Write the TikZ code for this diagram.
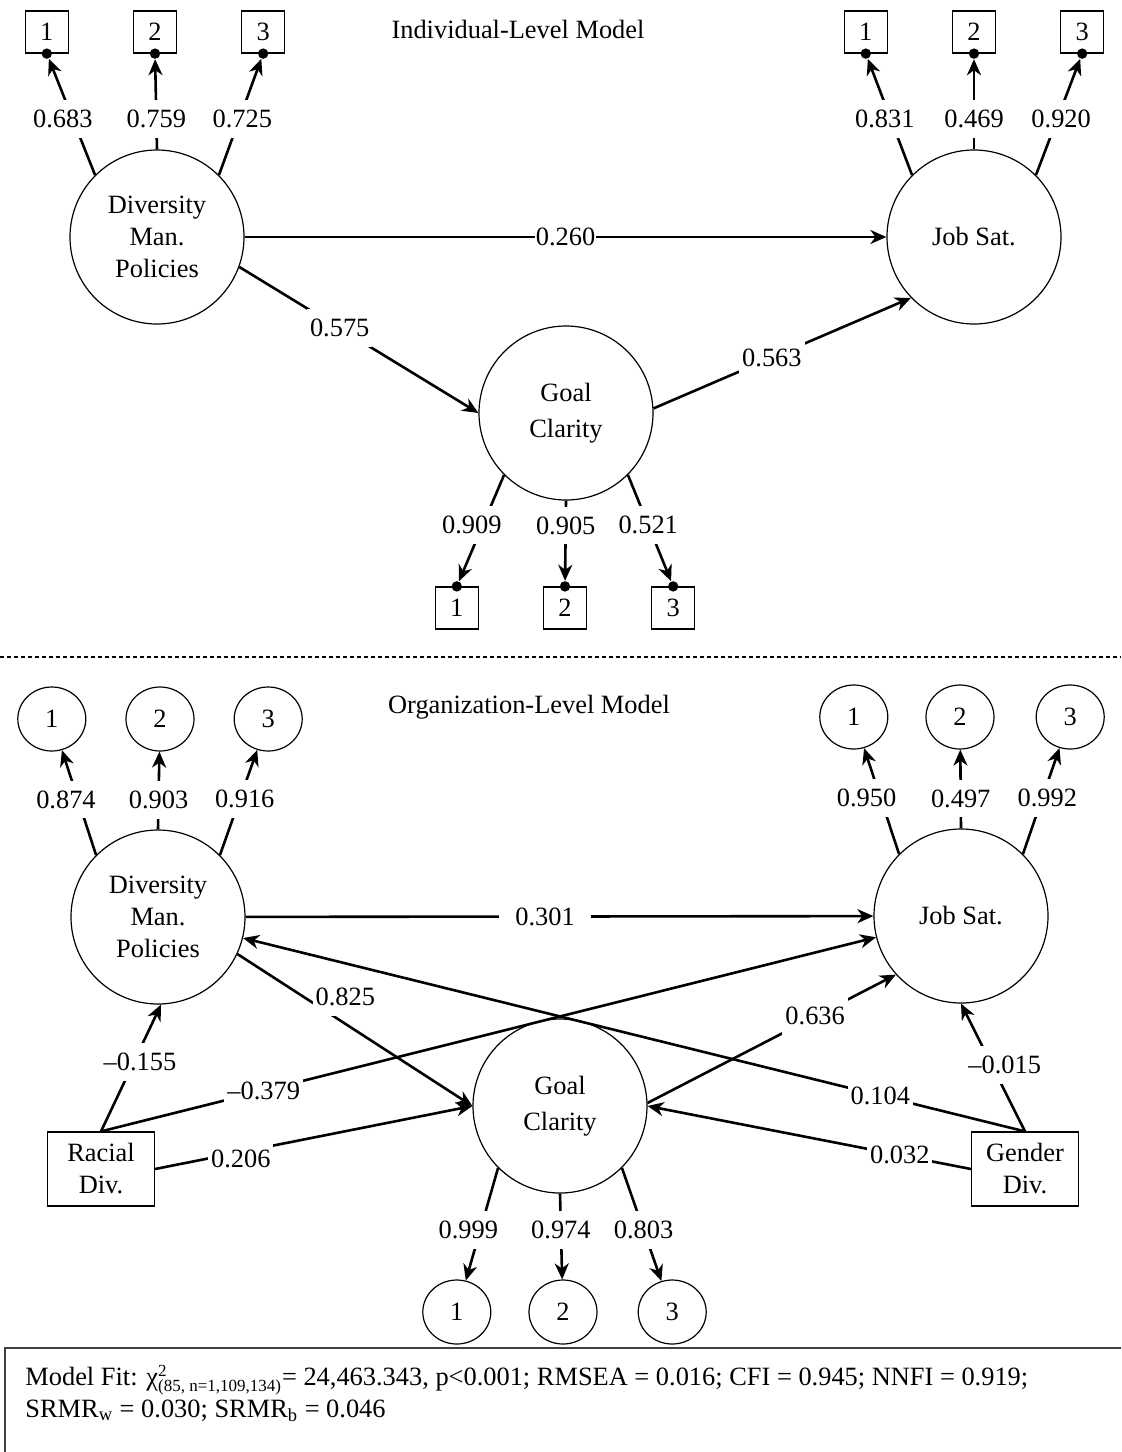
\documentclass[tikz,border=0pt]{standalone}
\usepackage{fontspec}
\setmainfont{Liberation Serif}
\usetikzlibrary{shapes.geometric, arrows.meta, positioning}
\tikzset{
    latent/.style={circle, draw=black, line width=0.6pt, minimum size=87pt, inner sep=0pt, text centered, align=center},
    item/.style={rectangle, draw=black, line width=0.6pt, minimum width=21.5pt, minimum height=21pt, inner sep=0pt},
    itemo/.style={ellipse, draw=black, line width=0.6pt, minimum width=34pt, minimum height=32pt, inner sep=0pt},
    covar/.style={rectangle, draw=black, line width=0.6pt, minimum width=53.5pt, minimum height=37pt, inner sep=0pt, align=center},
    dot/.style={circle, fill=black, inner sep=0pt, minimum size=5.2pt},
    arrow/.style={line width=1.3pt, -{Stealth[length=8pt, width=7pt, inset=2.5pt]}},
    coef/.style={fill=white, inner xsep=1.5pt, inner ysep=5pt},
    frame/.style={line width=1pt, black!75}
}
\newcommand{\fitsub}[1]{\mbox{\fontsize{8.5}{9}\selectfont #1}}
\begin{document}
\begin{tikzpicture}[x=0.5pt, y=-0.5pt, font=\fontsize{13.2}{16}\selectfont]
    \useasboundingbox (0,0) rectangle (1121,1452);
    % Individual-level model
    \node (title_ind) at (518,29) {Individual-Level Model};
    \node (dmp_ind) [latent] at (157,237) {Diversity\\Man.\\Policies};
    \node (js_ind) [latent] at (974,237) {Job Sat.};
    \node (gc_ind) [latent] at (566,413) {Goal\\[2pt]Clarity};
    % Items
    \node (dmp_ind_2) [item] at (155,32) {2};
    \node (dmp_ind_1) [item, left=32pt of dmp_ind_2] {1};
    \node (dmp_ind_3) [item, right=32pt of dmp_ind_2] {3};
    \node (js_ind_2) [item] at (974,32) {2};
    \node (js_ind_1) [item, left=32pt of js_ind_2] {1};
    \node (js_ind_3) [item, right=32pt of js_ind_2] {3};
    \node (gc_ind_2) [item] at (565,608) {2};
    \node (gc_ind_1) [item, left=32pt of gc_ind_2] {1};
    \node (gc_ind_3) [item, right=32pt of gc_ind_2] {3};
    \foreach \n in {dmp_ind_1, dmp_ind_2, dmp_ind_3, js_ind_1, js_ind_2, js_ind_3}
        \node (\n_dot) [dot] at (\n.south) {};
    \foreach \n in {gc_ind_1, gc_ind_2, gc_ind_3}
        \node (\n_dot) [dot] at (\n.north) {};
    % Arrows
    \draw [arrow] (dmp_ind.135) -- node[coef, pos=0.48, xshift=-5pt] {0.683} (dmp_ind_1_dot);
    \draw [arrow] (dmp_ind.90) -- node[coef, pos=0.34] {0.759} (dmp_ind_2_dot);
    \draw [arrow] (dmp_ind.45) -- node[coef, pos=0.48, xshift=1.5pt] {0.725} (dmp_ind_3_dot);
    \draw [arrow] (js_ind.135) -- node[coef, pos=0.48, xshift=-3pt] {0.831} (js_ind_1_dot);
    \draw [arrow] (js_ind.90) -- node[coef, pos=0.34] {0.469} (js_ind_2_dot);
    \draw [arrow] (js_ind.45) -- node[coef, pos=0.48, xshift=2pt] {0.920} (js_ind_3_dot);
    \draw [arrow] (gc_ind.225) -- node[coef, pos=0.47, xshift=-5.5pt] {0.909} (gc_ind_1_dot);
    \draw [arrow] (gc_ind.270) -- node[coef, pos=0.31] {0.905} (gc_ind_2_dot);
    \draw [arrow] (gc_ind.315) -- node[coef, pos=0.47] {0.521} (gc_ind_3_dot);
    \draw [arrow] (dmp_ind) -- node[coef, inner xsep=0.5pt] {0.260} (js_ind);
    \draw [arrow] (dmp_ind.-20) -- node[coef, pos=0.42] {0.575} (gc_ind.west);
    \draw [arrow] (gc_ind.3) -- node[coef, pos=0.46] {0.563} (js_ind.224);
    % Separator
    \coordinate (sep_l) at (0,657);
    \coordinate (sep_r) at (1121,657);
    \draw [line width=0.8pt, dash pattern=on 2pt off 1.5pt] (sep_l) -- (sep_r);
    % Organization-level model
    \node (title_org) at (529,707) {Organization-Level Model};
    \node (dmp_org) [latent] at (158,917) {Diversity\\Man.\\Policies};
    \node (js_org) [latent] at (961,916) {Job Sat.};
    \node (gc_org) [latent] at (560,1106) {Goal\\[2pt]Clarity};
    \node (racial) [covar] at (101,1169) {Racial\\Div.};
    \node (gender) [covar] at (1025,1169) {Gender\\Div.};
    % Items
    \node (dmp_org_2) [itemo] at (160,719) {2};
    \node (dmp_org_1) [itemo, left=19.5pt of dmp_org_2] {1};
    \node (dmp_org_3) [itemo, right=19.5pt of dmp_org_2] {3};
    \node (js_org_2) [itemo] at (960,717) {2};
    \node (js_org_1) [itemo, left=18.5pt of js_org_2] {1};
    \node (js_org_3) [itemo, right=20.5pt of js_org_2] {3};
    \node (gc_org_2) [itemo] at (563,1312) {2};
    \node (gc_org_1) [itemo, left=18.5pt of gc_org_2] {1};
    \node (gc_org_3) [itemo, right=20pt of gc_org_2] {3};
    % Arrows
    \draw [arrow] (dmp_org.135) -- node[coef, pos=0.53, xshift=-6pt] {0.874} (dmp_org_1);
    \draw [arrow] (dmp_org.90) -- node[coef, pos=0.38] {0.903} (dmp_org_2);
    \draw [arrow] (dmp_org.45) -- node[coef, pos=0.53, xshift=2.5pt] {0.916} (dmp_org_3);
    \draw [arrow] (js_org.135) -- node[coef, pos=0.53, xshift=-7pt] {0.950} (js_org_1);
    \draw [arrow] (js_org.90) -- node[coef, pos=0.38] {0.497} (js_org_2);
    \draw [arrow] (js_org.45) -- node[coef, pos=0.53, xshift=2.5pt] {0.992} (js_org_3);
    \draw [arrow] (gc_org.225) -- node[coef, pos=0.55, xshift=-6pt] {0.999} (gc_org_1);
    \draw [arrow] (gc_org.270) -- node[coef, pos=0.42] {0.974} (gc_org_2);
    \draw [arrow] (gc_org.315) -- node[coef, pos=0.55] {0.803} (gc_org_3);
    \draw [arrow] (dmp_org) -- node[coef, inner xsep=8pt, pos=0.477] {0.301} (js_org);
    \draw [arrow] (gender.north) -- node[coef, pos=0.185] {0.104} (dmp_org);
    \draw [arrow] (racial.north) -- node[coef, pos=0.21] {--0.379} (js_org);
    \draw [arrow] (dmp_org.-25) -- node[coef, pos=0.4, xshift=7pt, yshift=9pt] {0.825} (gc_org.west);
    \draw [arrow] (gc_org.2) -- node[coef, pos=0.675] {0.636} (js_org.222);
    \draw [arrow] (racial.north) -- node[coef, pos=0.55, xshift=3pt] {--0.155} (dmp_org.272);
    \draw [arrow] (racial.east) -- node[coef, pos=0.27, yshift=-3.5pt] {0.206} (gc_org.west);
    \draw [arrow] (gender.north) -- node[coef, pos=0.52, xshift=6.5pt] {--0.015} (js_org.south);
    \draw [arrow] (gender.west) -- node[coef, pos=0.22] {0.032} (gc_org.east);
    % Model fit
    \coordinate (fit_tr) at (1121,1348);
    \coordinate (fit_tl) at (5,1348);
    \coordinate (fit_bl) at (5,1452);
    \draw [frame] (fit_tr) -- (fit_tl) -- (fit_bl);
    \node (fit) [anchor=north west, inner sep=0pt, align=left] at (25,1365)
        {Model Fit: χ$^{\fitsub{2}}_{\fitsub{(85, n=1,109,134)}}$= 24,463.343, p<0.001; RMSEA = 0.016; CFI = 0.945; NNFI = 0.919;\\SRMR\textsubscript{w} = 0.030; SRMR\textsubscript{b} = 0.046};
\end{tikzpicture}
\end{document}
